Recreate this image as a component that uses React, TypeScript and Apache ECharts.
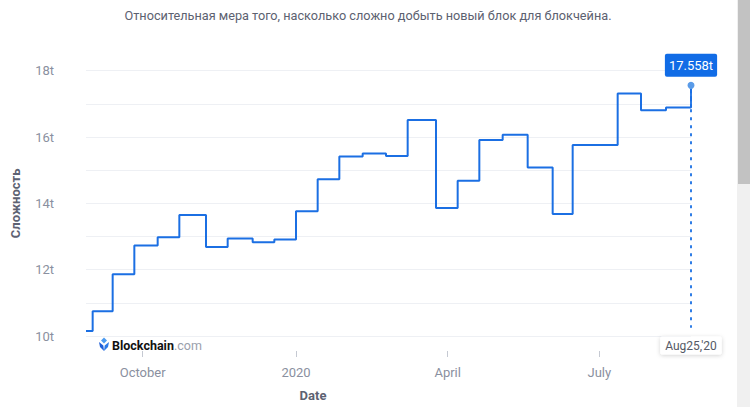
import React, { useEffect, useRef } from "react";
import * as echarts from "echarts";

// Difficulty step changes (start date of each level) and values in trillions
const stepDates = [
  "2019-08-28", "2019-09-01", "2019-09-13", "2019-09-26", "2019-10-10",
  "2019-10-23", "2019-11-08", "2019-11-21", "2019-12-06", "2019-12-19",
  "2020-01-01", "2020-01-14", "2020-01-27", "2020-02-10", "2020-02-24",
  "2020-03-08", "2020-03-25", "2020-04-07", "2020-04-20", "2020-05-04",
  "2020-05-19", "2020-06-03", "2020-06-15", "2020-07-12", "2020-07-26",
  "2020-08-10", "2020-08-25",
];
const difficulty = [
  10.15, 10.75, 11.86, 12.73, 12.98,
  13.65, 12.68, 12.94, 12.83, 12.91,
  13.76, 14.73, 15.41, 15.5, 15.43,
  16.51, 13.86, 14.68, 15.91, 16.07,
  15.08, 13.68, 15.76, 17.31, 16.81,
  16.89, 17.558,
];
const tickDates = ["2019-10-01", "2020-01-01", "2020-04-01", "2020-07-01"];
const tickLabels = ["October", "2020", "April", "July"];
const lastValueLabel = "17.558t";
const lastDateLabel = "Aug25,'20";
const titleText = "Относительная мера того, насколько сложно добыть новый блок для блокчейна.";
const yAxisName = "Сложность";
const xAxisName = "Date";

const toTs = (s: string) => {
  const [y, m, d] = s.split("-").map(Number);
  return new Date(y, m - 1, d).getTime();
};

export default function App() {
  const ref = useRef<HTMLDivElement>(null);
  useEffect(() => {
    if (!ref.current) return;
    const chart = echarts.init(ref.current, undefined, { renderer: "svg" });
    const data = stepDates.map((d, i) => [toTs(d), difficulty[i]]);
    const tickTs = tickDates.map(toTs);
    const lastTs = toTs(stepDates[stepDates.length - 1]);
    const lastVal = difficulty[difficulty.length - 1];
    const font = "Roboto";
    chart.setOption({
      animation: false,
      textStyle: { fontFamily: font },
      grid: { left: 86, right: 59, top: 70.7, bottom: 71, containLabel: false },
      xAxis: {
        type: "value",
        min: toTs(stepDates[0]),
        max: lastTs,
        offset: 15,
        axisLine: { show: false },
        axisTick: {
          show: true,
          customValues: tickTs,
          length: 6,
          lineStyle: { color: "#c5c9d2" },
        },
        axisLabel: {
          customValues: tickTs,
          margin: 15,
          color: "#8a90a0",
          fontSize: 13,
          fontFamily: font,
          formatter: (v: number) => {
            const i = tickTs.findIndex((t) => Math.abs(t - v) < 86400000);
            return i >= 0 ? tickLabels[i] : "";
          },
        },
        splitLine: { show: false },
      },
      yAxis: {
        type: "value",
        min: 10,
        max: 18,
        interval: 1,
        name: yAxisName,
        nameLocation: "middle",
        nameGap: 64,
        nameRotate: 90,
        nameTextStyle: { fontSize: 13, fontWeight: "bold", color: "#5d6272", fontFamily: font },
        axisLine: { show: false },
        axisTick: { show: false },
        splitLine: { lineStyle: { color: "#eef0f4", width: 1 } },
        axisLabel: {
          margin: 32,
          color: "#8a90a0",
          fontSize: 13,
          fontFamily: font,
          padding: [6, 0, 0, 0],
          formatter: (v: number) => (Math.round(v) % 2 === 0 ? `${v}t` : ""),
        },
      },
      series: [
        {
          type: "line",
          step: "end",
          showSymbol: false,
          data,
          lineStyle: { color: "#1b6fe3", width: 2 },
          markLine: {
            silent: true,
            symbol: ["none", "none"],
            label: { show: false },
            lineStyle: { type: [3, 5], color: "#2f7de6", width: 2 },
            data: [[{ coord: [lastTs, lastVal] }, { coord: [lastTs, 10.25] }]],
          },
          markPoint: {
            silent: true,
            data: [
              {
                coord: [lastTs, lastVal],
                symbol: "circle",
                symbolSize: 7,
                itemStyle: { color: "#5a9be8" },
                label: {
                  show: true,
                  position: "top",
                  distance: 5,
                  formatter: lastValueLabel,
                  color: "#ffffff",
                  backgroundColor: "#116ce6",
                  padding: [4, 4],
                  lineHeight: 15,
                  fontSize: 13,
                  borderRadius: 2,
                  fontFamily: font,
                },
              },
              {
                coord: [lastTs, 10],
                symbol: "circle",
                symbolSize: 1,
                itemStyle: { color: "transparent" },
                label: {
                  show: true,
                  position: "bottom",
                  distance: 0,
                  formatter: lastDateLabel,
                  color: "#555a66",
                  backgroundColor: "#ffffff",
                  padding: [2, 5],
                  lineHeight: 14,
                  fontSize: 12,
                  borderRadius: 2,
                  shadowBlur: 4,
                  shadowColor: "rgba(0,0,0,0.18)",
                  shadowOffsetY: 1,
                  fontFamily: font,
                },
              },
            ],
          },
        },
      ],
      graphic: [
        {
          type: "text",
          x: 368,
          y: 15,
          style: {
            text: titleText,
            textAlign: "center",
            textVerticalAlign: "middle",
            fontSize: 12.7,
            fontFamily: font,
            fill: "#5c6170",
          },
        },
        {
          type: "text",
          x: 313,
          y: 395,
          style: {
            text: xAxisName,
            textAlign: "center",
            textVerticalAlign: "middle",
            fontSize: 13,
            fontWeight: "bold",
            fontFamily: font,
            fill: "#5d6272",
          },
        },
        {
          type: "polygon",
          shape: { points: [[104, 337.5], [107, 340.5], [104, 343.5], [101, 340.5]] },
          style: { fill: "#4d9bf0" },
        },
        {
          type: "polygon",
          shape: { points: [[99, 342], [103.3, 345.5], [104, 351], [100, 347]] },
          style: { fill: "#1f5fd8" },
        },
        {
          type: "polygon",
          shape: { points: [[109, 342], [104.7, 345.5], [104, 351], [108, 347]] },
          style: { fill: "#2b7ae8" },
        },
        {
          type: "text",
          x: 112,
          y: 345,
          style: {
            text: "{a|Blockchain}{b|.com}",
            textVerticalAlign: "middle",
            rich: {
              a: { fontSize: 12.5, fontWeight: "bold", fill: "#111", fontFamily: font },
              b: { fontSize: 12.5, fill: "#9aa0ac", fontFamily: font },
            },
          },
        },
        { type: "rect", shape: { x: 737, y: 0, width: 13, height: 407 }, style: { fill: "#f0f0f0" } },
        { type: "rect", shape: { x: 738, y: 0, width: 12, height: 184 }, style: { fill: "#c2c2c2" } },
      ],
    });
    return () => chart.dispose();
  }, []);
  return (
    <div
      ref={ref}
      style={{ position: "absolute", left: 0, top: 0, width: 750, height: 407, background: "#fff" }}
    />
  );
}
